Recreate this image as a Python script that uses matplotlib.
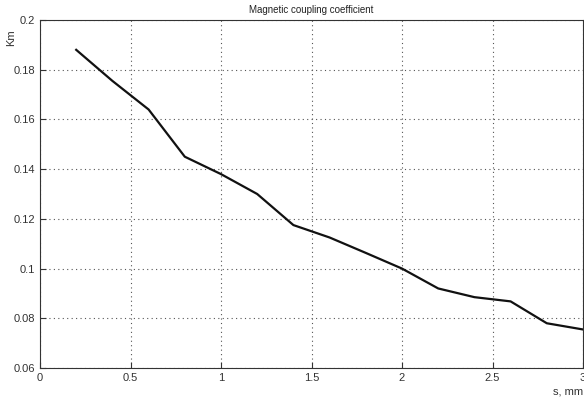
import numpy as np
import matplotlib
matplotlib.use("Agg")
import matplotlib.pyplot as plt

s_mm = [0.2, 0.4, 0.6, 0.8, 1.0, 1.2, 1.4, 1.6, 1.8, 2.0, 2.2, 2.4, 2.6, 2.8, 3.0]
km = [0.188, 0.1755, 0.164, 0.145, 0.138, 0.130, 0.1175, 0.1125, 0.1063, 0.100,
      0.092, 0.0885, 0.0868, 0.078, 0.0755]

xticks = [0, 0.5, 1, 1.5, 2, 2.5, 3]
xlabels = ["0", "0.5", "1", "1.5", "2", "2.5", "3"]
yticks = [0.06, 0.08, 0.1, 0.12, 0.14, 0.16, 0.18, 0.2]
ylabels = ["0.06", "0.08", "0.1", "0.12", "0.14", "0.16", "0.18", "0.2"]

plt.rcParams['font.family'] = ['Liberation Sans', 'DejaVu Sans']
fig = plt.figure(figsize=(5.84, 4.03), dpi=100)
ax = fig.add_axes([40/584, 1 - 368/403, 543/584, 348/403])

ax.plot(s_mm, km, color='#111111', linewidth=1.6)

ax.set_xlim(0, 3)
ax.set_ylim(0.06, 0.2)
ax.set_xticks(xticks)
ax.set_xticklabels(xlabels)
ax.set_yticks(yticks)
ax.set_yticklabels(ylabels)
ax.tick_params(direction='in', labelsize=8, colors='#333333', length=4, width=0.8)
ax.grid(True, linestyle=(0, (1, 3)), color='#555555', linewidth=0.8)
for sp in ax.spines.values():
    sp.set_color('#333333')
    sp.set_linewidth(0.8)

ax.set_title("Magnetic coupling coefficient", fontsize=7, color='#222222', pad=5)
fig.text(583/584, 1 - 392/403, "s, mm", ha='right', va='center', fontsize=8, color='#333333')
fig.text(11/584, 1 - 38/403, "Km", ha='center', va='center', rotation=90, fontsize=8, color='#333333')

fig.savefig("out.png", dpi=100)
